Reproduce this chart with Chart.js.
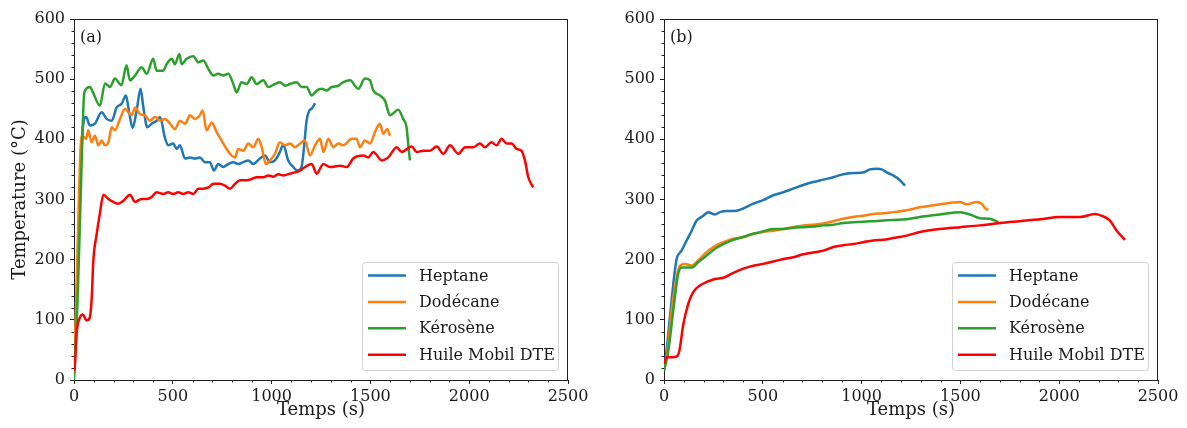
<!DOCTYPE html>
<html>
<head>
<meta charset="utf-8">
<script src="https://cdn.jsdelivr.net/npm/chart.js@4.4.1/dist/chart.umd.min.js"></script>
<style>
  html, body { margin: 0; padding: 0; background: #fff; }
  #wrap { position: relative; width: 1187px; height: 428px; overflow: hidden; }
  .cv { position: absolute; top: 0; }
</style>
</head>
<body>
<div id="wrap">
  <div class="cv" style="left:0;width:594px;height:428px"><canvas id="cA" width="594" height="428"></canvas></div>
  <div class="cv" style="left:594px;width:593px;height:428px"><canvas id="cB" width="593" height="428"></canvas></div>
</div>
<script>
// ---------------- DATA ----------------
const seriesLabels = ['Heptane', 'Dodécane', 'Kérosène', 'Huile Mobil DTE'];
const xTickValues = [0, 500, 1000, 1500, 2000, 2500];
const yTickValues = [0, 100, 200, 300, 400, 500, 600];

// Panel (a)
const tHeptaneA = [0, 15, 30, 45, 61, 81, 106, 140, 165, 191, 216, 241, 263, 275, 297, 317, 337, 351, 371, 393, 418, 435, 460, 477, 502, 520, 536, 562, 587, 612, 637, 663, 688, 708, 730, 755, 781, 806, 831, 857, 882, 907, 941, 966, 992, 1017, 1042, 1059, 1084, 1110, 1130, 1152, 1165, 1177, 1191, 1203, 1220];
const yHeptaneA = [10, 150, 320, 420, 437, 423, 426, 445, 434, 431, 453, 459, 473, 453, 419, 448, 484, 453, 420, 426, 431, 437, 403, 390, 393, 384, 390, 368, 370, 368, 370, 362, 362, 348, 359, 354, 359, 362, 359, 362, 365, 359, 368, 373, 362, 365, 379, 391, 365, 354, 348, 355, 390, 431, 448, 451, 460];

const tDodecaneA = [0, 15, 30, 39, 61, 72, 89, 106, 123, 140, 157, 174, 191, 207, 233, 258, 275, 292, 309, 334, 359, 384, 410, 435, 460, 486, 511, 536, 562, 587, 612, 637, 651, 671, 697, 722, 747, 772, 798, 815, 831, 857, 882, 907, 933, 950, 971, 992, 1017, 1042, 1068, 1093, 1118, 1144, 1169, 1194, 1220, 1245, 1262, 1287, 1312, 1338, 1363, 1405, 1430, 1447, 1472, 1498, 1523, 1548, 1565, 1585, 1599];
const yDodecaneA = [5, 180, 360, 406, 401, 415, 395, 406, 390, 398, 390, 395, 420, 415, 434, 451, 445, 440, 453, 442, 440, 431, 437, 431, 434, 426, 417, 431, 426, 440, 434, 440, 448, 415, 428, 412, 398, 384, 373, 370, 384, 381, 393, 387, 401, 387, 359, 365, 376, 395, 390, 393, 387, 393, 398, 373, 390, 401, 379, 401, 387, 393, 390, 401, 401, 387, 398, 393, 412, 426, 409, 417, 406];

const tKeroseneA = [0, 20, 35, 50, 56, 81, 96, 131, 157, 182, 207, 240, 266, 283, 309, 342, 368, 401, 418, 451, 469, 494, 511, 533, 545, 570, 604, 629, 654, 680, 705, 730, 755, 781, 806, 823, 848, 874, 899, 924, 958, 983, 1017, 1042, 1068, 1093, 1127, 1152, 1177, 1203, 1228, 1253, 1279, 1304, 1338, 1363, 1397, 1439, 1472, 1498, 1515, 1548, 1574, 1599, 1641, 1666, 1683, 1692, 1700];
const yKeroseneA = [0, 150, 320, 470, 481, 487, 478, 456, 493, 487, 501, 490, 523, 498, 506, 520, 509, 534, 514, 514, 525, 534, 525, 542, 525, 534, 538, 528, 531, 517, 506, 509, 506, 509, 492, 478, 495, 492, 503, 492, 498, 487, 492, 495, 489, 492, 495, 487, 487, 473, 481, 484, 481, 487, 489, 495, 498, 484, 501, 498, 481, 473, 464, 440, 449, 434, 420, 390, 365];

const tHuileA = [0, 5, 13, 30, 44, 64, 78, 89, 98, 115, 131, 149, 174, 199, 224, 250, 283, 309, 342, 368, 393, 418, 452, 477, 502, 528, 553, 578, 604, 629, 654, 680, 705, 739, 764, 789, 815, 840, 874, 899, 924, 958, 983, 1008, 1034, 1059, 1093, 1118, 1144, 1169, 1203, 1228, 1262, 1295, 1346, 1380, 1413, 1464, 1489, 1515, 1557, 1590, 1633, 1658, 1709, 1734, 1768, 1801, 1835, 1869, 1903, 1945, 1979, 2021, 2054, 2080, 2113, 2139, 2164, 2189, 2215, 2240, 2265, 2282, 2299, 2324];
const yHuileA = [15, 27, 77, 104, 109, 99, 102, 132, 199, 243, 277, 308, 301, 296, 293, 298, 308, 296, 301, 301, 304, 312, 309, 312, 309, 312, 309, 312, 309, 318, 318, 320, 326, 326, 323, 318, 326, 332, 332, 334, 337, 337, 340, 338, 342, 340, 343, 345, 348, 354, 359, 343, 359, 354, 356, 354, 368, 373, 370, 379, 365, 370, 387, 379, 388, 379, 381, 381, 388, 376, 390, 376, 387, 387, 393, 387, 395, 390, 401, 393, 393, 384, 381, 365, 337, 320];

// Panel (b)
const tHeptaneB = [0, 5, 30, 51, 64, 89, 115, 140, 165, 199, 224, 258, 283, 317, 359, 401, 452, 502, 553, 604, 654, 705, 755, 806, 857, 907, 958, 1008, 1042, 1076, 1102, 1127, 1160, 1194, 1220];
const yHeptaneB = [20, 27, 104, 171, 201, 215, 232, 248, 265, 273, 279, 275, 279, 281, 281, 285, 293, 299, 307, 312, 318, 324, 329, 333, 337, 342, 344, 345, 350, 351, 350, 345, 340, 332, 323];

const tDodecaneB = [0, 14, 39, 64, 81, 106, 140, 174, 207, 250, 300, 351, 401, 452, 502, 553, 604, 654, 705, 755, 806, 857, 907, 958, 1008, 1059, 1110, 1160, 1228, 1295, 1397, 1498, 1532, 1582, 1608, 1624, 1641];
const yDodecaneB = [15, 38, 116, 171, 190, 193, 190, 199, 210, 221, 229, 235, 237, 243, 246, 248, 251, 254, 257, 258, 260, 264, 268, 271, 273, 276, 277, 279, 282, 287, 292, 296, 292, 296, 293, 286, 282];

const tKeroseneB = [0, 22, 47, 72, 89, 115, 140, 174, 216, 258, 300, 351, 401, 452, 502, 553, 604, 654, 705, 755, 806, 857, 907, 958, 1008, 1059, 1110, 1160, 1228, 1295, 1397, 1498, 1548, 1599, 1650, 1692];
const yKeroseneB = [15, 49, 116, 177, 187, 187, 187, 196, 207, 218, 226, 233, 238, 243, 247, 251, 251, 253, 254, 255, 257, 258, 261, 262, 263, 264, 265, 266, 267, 271, 275, 279, 275, 269, 268, 262];

const tHuileB = [0, 14, 39, 64, 78, 98, 123, 148, 182, 216, 258, 300, 351, 401, 452, 502, 553, 604, 654, 705, 755, 806, 857, 907, 958, 1008, 1059, 1110, 1160, 1228, 1295, 1397, 1498, 1599, 1700, 1801, 1903, 2004, 2105, 2181, 2223, 2257, 2291, 2333];
const yHuileB = [27, 38, 38, 39, 49, 93, 127, 146, 157, 163, 168, 170, 178, 185, 190, 193, 197, 201, 204, 209, 212, 215, 221, 224, 226, 229, 232, 233, 236, 240, 246, 251, 254, 257, 261, 264, 267, 271, 271, 276, 272, 265, 248, 233];

// ---------------- STYLE ----------------
const colors = ['#1f77b4', '#ff7f0e', '#2ca02c', '#ff0000'];
const FONT = '"DejaVu Serif", "Liberation Serif", serif';
const TEXT = '#1a1a1a';
const MINOR_X = 100, MINOR_Y = 20;

function pts(t, v) { return t.map((x, i) => ({ x: x, y: v[i] })); }

function makeDatasets(series) {
  return series.map((s, i) => ({
    label: seriesLabels[i],
    data: pts(s[0], s[1]),
    borderColor: colors[i],
    backgroundColor: colors[i],
    borderWidth: 2.5,
    pointRadius: 0,
    cubicInterpolationMode: 'monotone',
    fill: false,
    order: 4 - i
  }));
}

const framePlugin = {
  id: 'frame',
  afterDraw(chart) {
    const { ctx, chartArea: a, scales: { x, y } } = chart;
    ctx.save();
    ctx.strokeStyle = '#222';
    ctx.lineWidth = 1;
    ctx.beginPath();
    for (let v = x.min; v <= x.max; v += MINOR_X) {
      if (xTickValues.includes(v)) continue;
      const px = Math.round(x.getPixelForValue(v)) + 0.5;
      ctx.moveTo(px, a.bottom); ctx.lineTo(px, a.bottom + 2.5);
    }
    for (let v = y.min; v <= y.max; v += MINOR_Y) {
      if (yTickValues.includes(v)) continue;
      const py = Math.round(y.getPixelForValue(v)) + 0.5;
      ctx.moveTo(a.left, py); ctx.lineTo(a.left - 2.5, py);
    }
    ctx.stroke();
    ctx.beginPath();
    ctx.moveTo(a.left, Math.round(a.top) + 0.5);
    ctx.lineTo(a.right, Math.round(a.top) + 0.5);
    ctx.moveTo(Math.round(a.right) - 0.5, a.top);
    ctx.lineTo(Math.round(a.right) - 0.5, a.bottom);
    ctx.stroke();
    ctx.restore();
  }
};

const legendPlugin = {
  id: 'boxLegend',
  afterDatasetsDraw(chart, args, opts) {
    const { ctx, chartArea: a } = chart;
    const w = 196, h = 108;
    const bx = a.right - 10 - w, by = a.bottom - 10 - h;
    ctx.save();
    ctx.beginPath();
    ctx.roundRect(bx + 0.5, by + 0.5, w, h, 3);
    ctx.fillStyle = 'rgba(255,255,255,0.85)';
    ctx.fill();
    ctx.strokeStyle = '#d0d0d0';
    ctx.lineWidth = 1;
    ctx.stroke();
    ctx.font = '16px ' + FONT;
    ctx.textBaseline = 'middle';
    ctx.textAlign = 'left';
    chart.data.datasets.forEach((ds, i) => {
      const yy = by + 13.5 + i * 26.4;
      ctx.strokeStyle = ds.borderColor;
      ctx.lineWidth = 2.5;
      ctx.beginPath();
      ctx.moveTo(bx + 6, yy); ctx.lineTo(bx + 44, yy);
      ctx.stroke();
      ctx.fillStyle = TEXT;
      ctx.fillText(ds.label, bx + 57, yy + 1);
    });
    ctx.font = '16px ' + FONT;
    ctx.textBaseline = 'middle';
    ctx.fillStyle = TEXT;
    ctx.fillText(opts.tag, a.left + 6, a.top + 19);
    ctx.restore();
  }
};

function makeChart(id, series, tag, yAxisWidth, rightPad, showYTitle) {
  return new Chart(document.getElementById(id), {
    type: 'line',
    data: { datasets: makeDatasets(series) },
    options: {
      responsive: false,
      animation: false,
      events: [],
      layout: { padding: { left: 0, right: rightPad, top: 19, bottom: 0 } },
      plugins: {
        legend: { display: false },
        tooltip: { enabled: false },
        boxLegend: { tag: tag }
      },
      scales: {
        x: {
          type: 'linear', min: 0, max: 2500,
          afterBuildTicks: (s) => { s.ticks = xTickValues.map(v => ({ value: v })); },
          ticks: { font: { family: FONT, size: 16 }, color: TEXT, padding: 3, maxRotation: 0, callback: (v) => String(v) },
          grid: { drawOnChartArea: false, drawTicks: true, tickLength: 4, tickColor: '#222' },
          border: { display: true, color: '#222', width: 1 },
          title: { display: true, text: 'Temps (s)', font: { family: FONT, size: 18 }, color: TEXT, padding: { top: 0, bottom: 7 } },
          afterFit: (s) => { s.height = 48; s.paddingLeft = 0; s.paddingRight = 0; }
        },
        y: {
          type: 'linear', min: 0, max: 600,
          afterBuildTicks: (s) => { s.ticks = yTickValues.map(v => ({ value: v })); },
          ticks: { font: { family: FONT, size: 16 }, color: TEXT, padding: 5, callback: (v) => String(v) },
          grid: { drawOnChartArea: false, drawTicks: true, tickLength: 4, tickColor: '#222' },
          border: { display: true, color: '#222', width: 1 },
          title: { display: showYTitle, text: 'Temperature (°C)', font: { family: FONT, size: 18 }, color: TEXT, padding: { top: 10, bottom: 0 } },
          afterFit: (s) => { s.width = yAxisWidth; s.paddingTop = 0; s.paddingBottom = 0; }
        }
      }
    },
    plugins: [framePlugin, legendPlugin]
  });
}

makeChart('cA', [[tHeptaneA, yHeptaneA], [tDodecaneA, yDodecaneA], [tKeroseneA, yKeroseneA], [tHuileA, yHuileA]], '(a)', 74, 26, true);
makeChart('cB', [[tHeptaneB, yHeptaneB], [tDodecaneB, yDodecaneB], [tKeroseneB, yKeroseneB], [tHuileB, yHuileB]], '(b)', 70, 29, false);
</script>
</body>
</html>
